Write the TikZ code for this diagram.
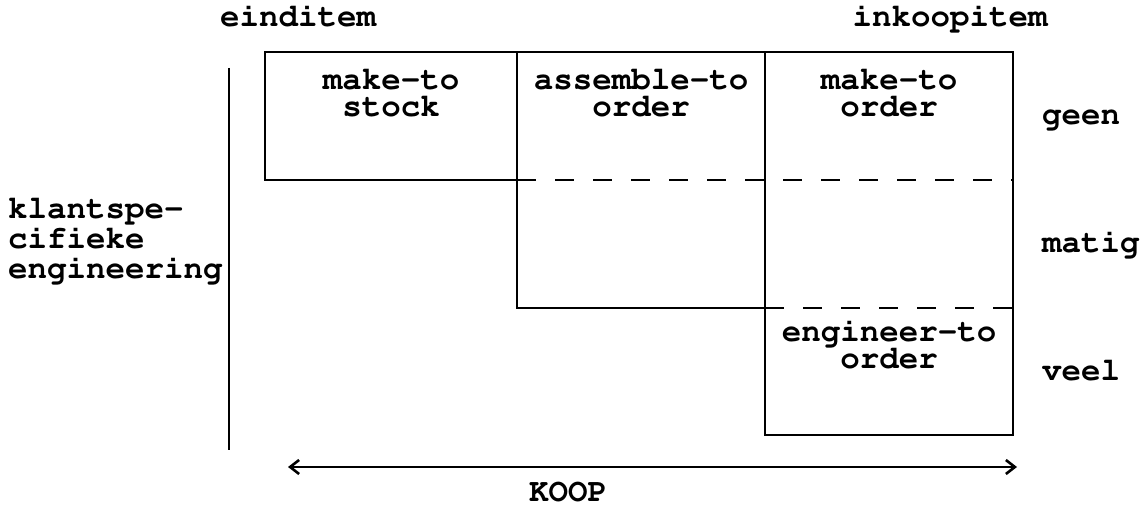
\documentclass[tikz,border=0pt]{standalone}
\usetikzlibrary{arrows.meta}
\tikzset{
  cour/.style={font=\fontencoding{T1}\fontfamily{pcr}\fontseries{b}\fontsize{32.5}{27}\selectfont, inner sep=0pt},
  boxline/.style={line width=2.4pt},
  bandline/.style={line width=2.6pt, dash pattern=on 19pt off 19pt},
  koopline/.style={line width=1.8pt, {Straight Barb[length=9pt,width=14pt,line width=2.6pt,sep=5pt]}-{Straight Barb[length=9pt,width=14pt,line width=2.6pt,sep=5pt]}}
}
\begin{document}
\begin{tikzpicture}[x=1pt,y=1pt]
  \useasboundingbox (0,0) rectangle (1148,510);
  % boxes
  \draw[boxline] (265,458) rectangle (517,330);
  \draw[boxline] (517,458) rectangle (765,202);
  \draw[boxline] (765,458) rectangle (1013,75);
  \draw[bandline] (517,330) -- (1013,330);
  \draw[bandline] (765,202) -- (1013,202);
  \draw[boxline] (229,442) -- (229,60);
  % labels
  \node[cour,anchor=base] (einditem) at (298,483) {einditem};
  \node[cour,anchor=base] (inkoopitem) at (950,483) {inkoopitem};
  \node[cour,anchor=base,align=center] (mts) at (391,393) {make-to\\stock};
  \node[cour,anchor=base,align=center] (ato) at (641,393) {assemble-to\\order};
  \node[cour,anchor=base,align=center] (mto) at (889,393) {make-to\\order};
  \node[cour,anchor=base,align=center] (eto) at (889,141) {engineer-to\\order};
  \node[cour,anchor=base west,align=left,font=\fontencoding{T1}\fontfamily{pcr}\fontseries{b}\fontsize{32.5}{30}\selectfont] (klant) at (8,231) {klantspe-\\cifieke\\engineering};
  \node[cour,anchor=base west] (geen) at (1042,385) {geen};
  \node[cour,anchor=base west] (matig) at (1042,257) {matig};
  \node[cour,anchor=base west] (veel) at (1042,129) {veel};
  % KOOP
  \coordinate (koopL) at (283,43);
  \coordinate (koopR) at (1022,43);
  \draw[koopline] (koopL) -- (koopR);
  \node[cour,anchor=base] (koop) at (568,8) {KOOP};
\end{tikzpicture}
\end{document}
